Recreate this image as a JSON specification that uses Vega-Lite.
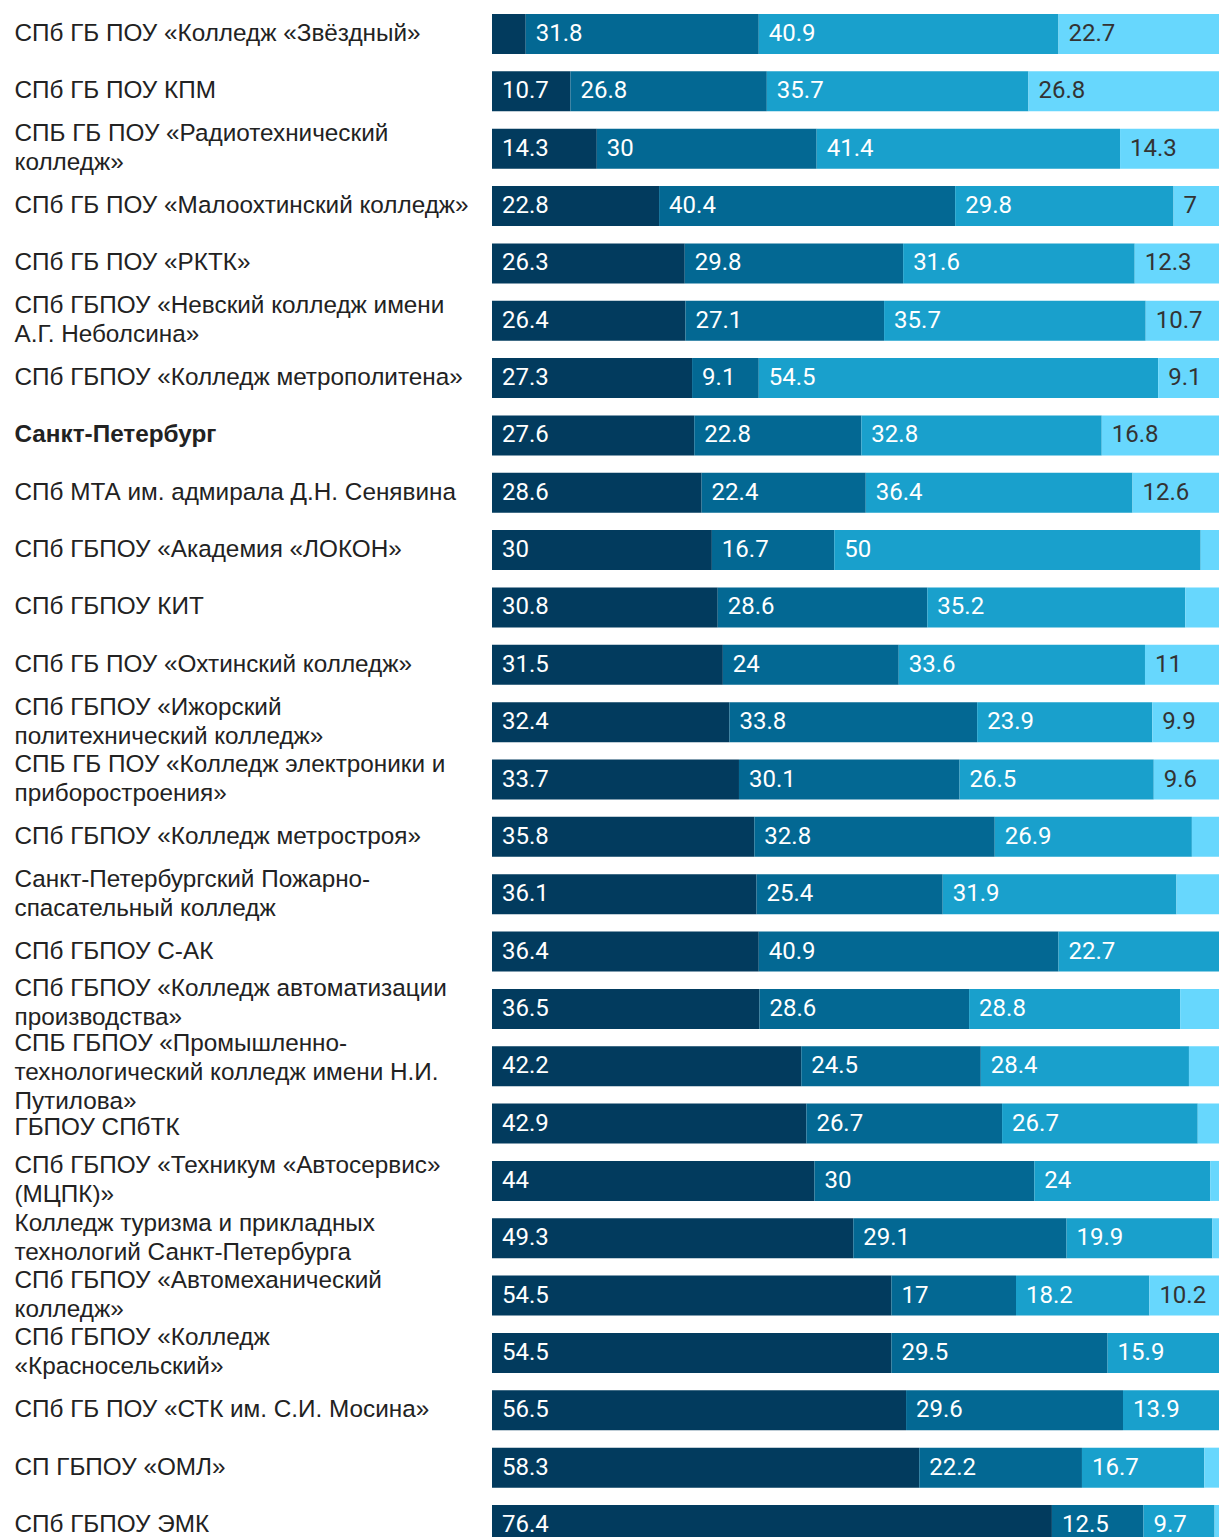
{
  "$schema": "https://vega.github.io/schema/vega-lite/v6.json",
  "autosize": {"type": "none"},
  "padding": {"left": 492, "top": 0, "right": 0, "bottom": 0},
  "width": 727,
  "height": 1537,
  "background": "white",
  "config": {"view": {"stroke": null}},
  "data": {"values": [
    {"name": "СПб ГБ ПОУ «Колледж «Звёздный»", "a": 4.6, "b": 31.8, "c": 40.9, "d": 22.7},
    {"name": "СПб ГБ ПОУ КПМ", "a": 10.7, "b": 26.8, "c": 35.7, "d": 26.8},
    {"name": "СПБ ГБ ПОУ «Радиотехнический|колледж»", "a": 14.3, "b": 30, "c": 41.4, "d": 14.3},
    {"name": "СПб ГБ ПОУ «Малоохтинский колледж»", "a": 22.8, "b": 40.4, "c": 29.8, "d": 7},
    {"name": "СПб ГБ ПОУ «РКТК»", "a": 26.3, "b": 29.8, "c": 31.6, "d": 12.3},
    {"name": "СПб ГБПОУ «Невский колледж имени|А.Г. Неболсина»", "a": 26.4, "b": 27.1, "c": 35.7, "d": 10.7},
    {"name": "СПб ГБПОУ «Колледж метрополитена»", "a": 27.3, "b": 9.1, "c": 54.5, "d": 9.1},
    {"name": "Санкт-Петербург", "a": 27.6, "b": 22.8, "c": 32.8, "d": 16.8},
    {"name": "СПб МТА им. адмирала Д.Н. Сенявина", "a": 28.6, "b": 22.4, "c": 36.4, "d": 12.6},
    {"name": "СПб ГБПОУ «Академия «ЛОКОН»", "a": 30, "b": 16.7, "c": 50, "d": 3.3},
    {"name": "СПб ГБПОУ КИТ", "a": 30.8, "b": 28.6, "c": 35.2, "d": 5.4},
    {"name": "СПб ГБ ПОУ «Охтинский колледж»", "a": 31.5, "b": 24, "c": 33.6, "d": 11},
    {"name": "СПб ГБПОУ «Ижорский|политехнический колледж»", "a": 32.4, "b": 33.8, "c": 23.9, "d": 9.9},
    {"name": "СПБ ГБ ПОУ «Колледж электроники и|приборостроения»", "a": 33.7, "b": 30.1, "c": 26.5, "d": 9.6},
    {"name": "СПб ГБПОУ «Колледж метростроя»", "a": 35.8, "b": 32.8, "c": 26.9, "d": 4.5},
    {"name": "Санкт-Петербургский Пожарно-|спасательный колледж", "a": 36.1, "b": 25.4, "c": 31.9, "d": 6.6},
    {"name": "СПб ГБПОУ С-АК", "a": 36.4, "b": 40.9, "c": 22.7, "d": 0},
    {"name": "СПб ГБПОУ «Колледж автоматизации|производства»", "a": 36.5, "b": 28.6, "c": 28.8, "d": 6.1},
    {"name": "СПБ ГБПОУ «Промышленно-|технологический колледж имени Н.И.|Путилова»", "a": 42.2, "b": 24.5, "c": 28.4, "d": 4.9},
    {"name": "ГБПОУ СПбТК", "a": 42.9, "b": 26.7, "c": 26.7, "d": 3.7},
    {"name": "СПб ГБПОУ «Техникум «Автосервис»|(МЦПК)»", "a": 44, "b": 30, "c": 24, "d": 2},
    {"name": "Колледж туризма и прикладных|технологий Санкт-Петербурга", "a": 49.3, "b": 29.1, "c": 19.9, "d": 1.7},
    {"name": "СПб ГБПОУ «Автомеханический|колледж»", "a": 54.5, "b": 17, "c": 18.2, "d": 10.2},
    {"name": "СПб ГБПОУ «Колледж|«Красносельский»", "a": 54.5, "b": 29.5, "c": 15.9, "d": 0.1},
    {"name": "СПб ГБ ПОУ «СТК им. С.И. Мосина»", "a": 56.5, "b": 29.6, "c": 13.9, "d": 0},
    {"name": "СП ГБПОУ «ОМЛ»", "a": 58.3, "b": 22.2, "c": 16.7, "d": 2.8},
    {"name": "СПб ГБПОУ ЭМК", "a": 76.4, "b": 12.5, "c": 9.7, "d": 1.4}
  ]},
  "transform": [
    {"fold": ["a", "b", "c", "d"], "as": ["key", "value"]}
  ],
  "encoding": {
    "y": {
      "field": "name", "type": "nominal", "sort": null,
      "scale": {"range": [0, 1559], "paddingInner": 0.3025, "paddingOuter": 0.244},
      "axis": {
        "title": null, "domain": false, "ticks": false, "grid": false,
        "labelAlign": "left", "labelBaseline": "middle", "labelPadding": 478,
        "labelFont": "Liberation Sans", "labelFontSize": 24.3, "labelColor": "#222222",
        "labelLimit": 480, "labelLineHeight": 29, "labelOverlap": false, "labelBound": false,
        "labelExpr": "split(datum.value, '|')",
        "labelOffset": {"condition": [
          {"test": "indexof(datum.value, 'Путилова') >= 0", "value": -22},
          {"test": "indexof(datum.value, 'автоматизации') >= 0", "value": -20},
          {"test": "datum.value === 'ГБПОУ СПбТК'", "value": 4},
          {"test": "length(split(datum.value, '|')) === 3", "value": -29},
          {"test": "length(split(datum.value, '|')) === 2", "value": -14.5}
        ], "value": 0},
        "labelFontWeight": {"condition": {"test": "datum.value === 'Санкт-Петербург'", "value": "bold"}, "value": "normal"}
      }
    }
  },
  "layer": [
    {
      "mark": {"type": "bar", "clip": true},
      "encoding": {
        "x": {"field": "value", "type": "quantitative", "stack": "zero", "scale": {"domain": [0, 99.2], "nice": false}, "axis": null},
        "order": {"field": "key"},
        "color": {"field": "key", "type": "nominal", "legend": null,
          "scale": {"domain": ["a", "b", "c", "d"], "range": ["#023b5e", "#036893", "#19a0cc", "#67d7fd"]}}
      }
    },
    {
      "transform": [
        {"window": [{"op": "sum", "field": "value", "as": "cum"}], "groupby": ["name"], "sort": [{"field": "key"}], "frame": [null, 0]},
        {"calculate": "datum.cum - datum.value", "as": "start"},
        {"filter": "datum.value >= 7"}
      ],
      "mark": {"type": "text", "align": "left", "baseline": "middle", "dx": 10, "font": "Roboto", "fontSize": 24, "clip": true},
      "encoding": {
        "x": {"field": "start", "type": "quantitative"},
        "text": {"field": "value", "type": "quantitative"},
        "color": {"condition": {"test": "datum.key === 'd'", "value": "#333333"}, "value": "#ffffff"}
      }
    }
  ]
}
